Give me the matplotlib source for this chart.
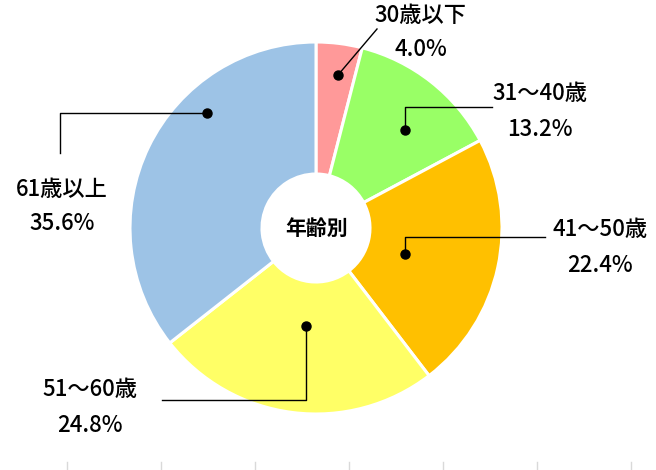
import matplotlib
matplotlib.use('Agg')
import matplotlib.pyplot as plt

plt.rcParams['font.family'] = ['Noto Sans CJK JP', 'DejaVu Sans']

# data
categories = ['30歳以下', '31～40歳', '41～50歳', '51～60歳', '61歳以上']
shares = [4.0, 13.2, 22.4, 24.8, 35.6]
colors = ['#FF9999', '#99FF66', '#FFC000', '#FFFF66', '#9DC3E6']
center_label = '年齢別'

W, H = 656, 470


def P(x, y):
    # pixel coords (y from top) -> data coords
    return (x, H - y)


fig = plt.figure(figsize=(W / 100, H / 100), dpi=100)
ax = fig.add_axes([0, 0, 1, 1])

ax.pie(shares, colors=colors, startangle=90, counterclock=False,
       center=P(316, 228), radius=186,
       wedgeprops=dict(width=132, edgecolor='white', linewidth=2.2))
ax.set_xlim(0, W)
ax.set_ylim(0, H)
ax.set_aspect('equal')
ax.axis('off')

ax.text(*P(317, 228), center_label, ha='center', va='center',
        fontsize=15, fontweight='bold')

# leader line paths (dot first) and label positions, in pixels
leaders = [
    [(338, 75), (377, 29)],
    [(405, 130), (405, 107), (492, 107)],
    [(405, 254), (405, 237), (545, 237)],
    [(306, 326), (306, 400), (162, 400)],
    [(207, 113), (60, 113), (60, 153)],
]
label_pos = [(420, 16), (540, 93), (600, 230), (90, 390), (62, 190)]
pct_pos = [(421, 49), (540, 129), (600, 266), (90, 425), (62, 224)]

for cat, val, path, lp, pp in zip(categories, shares, leaders, label_pos, pct_pos):
    pts = [P(x, y) for x, y in path]
    ax.plot([p[0] for p in pts], [p[1] for p in pts], color='black', lw=1.0)
    ax.plot(*pts[0], 'o', color='black', ms=6.5)
    ax.text(*P(*lp), cat, ha='center', va='center', fontsize=16, fontweight='medium')
    ax.text(*P(*pp), f'{val:.1f}%', ha='center', va='center', fontsize=16, fontweight='medium')

# faint tick marks along the bottom edge
for x in range(67, 640, 94):
    ax.plot([x, x], [0, 8], color='#d9d9d9', lw=1.0)

fig.savefig('out.png', dpi=100)
